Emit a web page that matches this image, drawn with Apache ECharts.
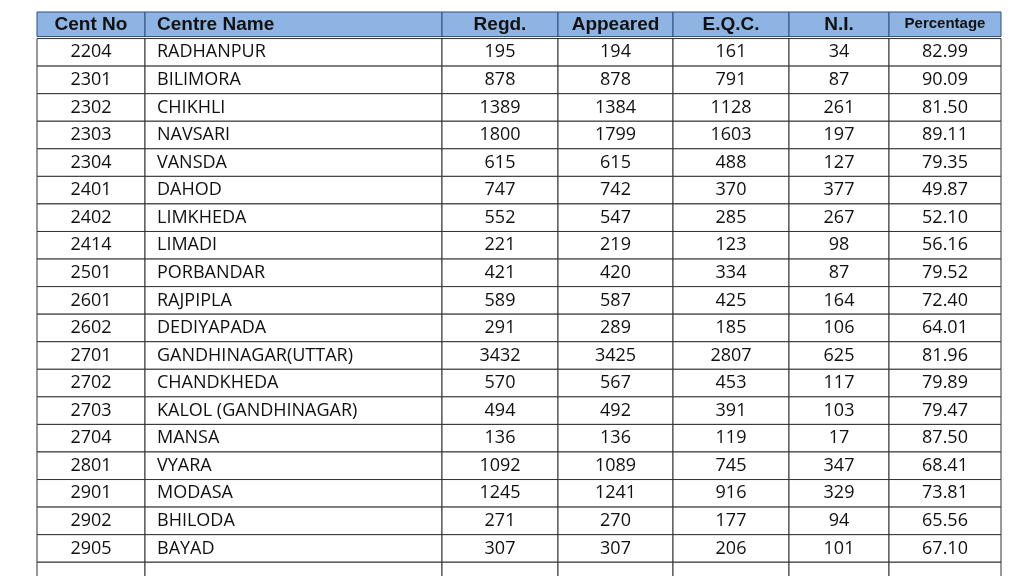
<!DOCTYPE html>
<html><head><meta charset="utf-8">
<script src="https://cdn.jsdelivr.net/npm/echarts@6/dist/echarts.min.js"></script>
<style>html,body{margin:0;background:#fff}#c{width:1024px;height:576px}</style>
</head><body><div id="c"></div>
<script>
const headers = ["Cent No","Centre Name","Regd.","Appeared","E.Q.C.","N.I.","Percentage"];
const centNo = ["2204","2301","2302","2303","2304","2401","2402","2414","2501","2601","2602","2701","2702","2703","2704","2801","2901","2902","2905",""];
const centreName = ["RADHANPUR","BILIMORA","CHIKHLI","NAVSARI","VANSDA","DAHOD","LIMKHEDA","LIMADI","PORBANDAR","RAJPIPLA","DEDIYAPADA","GANDHINAGAR(UTTAR)","CHANDKHEDA","KALOL (GANDHINAGAR)","MANSA","VYARA","MODASA","BHILODA","BAYAD",""];
const regd = [195,878,1389,1800,615,747,552,221,421,589,291,3432,570,494,136,1092,1245,271,307,""];
const appeared = [194,878,1384,1799,615,742,547,219,420,587,289,3425,567,492,136,1089,1241,270,307,""];
const eqc = [161,791,1128,1603,488,370,285,123,334,425,185,2807,453,391,119,745,916,177,206,""];
const ni = [34,87,261,197,127,377,267,98,87,164,106,625,117,103,17,347,329,94,101,""];
const percentage = ["82.99","90.09","81.50","89.11","79.35","49.87","52.10","56.16","79.52","72.40","64.01","81.96","79.89","79.47","87.50","68.41","73.81","65.56","67.10",""];

const edges = [37,145,442,558,673,789,889,1001];
const cols = [centNo,centreName,regd,appeared,eqc,ni,percentage];
const data = [];
headers.forEach((h,c)=>data.push([c,-1,h]));
for(let r=0;r<centNo.length;r++) for(let c=0;c<7;c++) data.push([c,r,String(cols[c][r])]);

const chart = echarts.init(document.getElementById('c'));
chart.setOption({
  animation:false,
  grid:{left:0,top:11,width:1024,height:28*20.5},
  xAxis:{type:'value',min:0,max:1024,show:false},
  yAxis:{type:'value',min:-1,max:19.5,inverse:true,show:false},
  series:[{
    type:'custom',
    clip:false,
    data:data,
    renderItem:function(params,api){
      const c=api.value(0), r=api.value(1), txt=data[params.dataIndex][2];
      const p0=api.coord([edges[c],r]), p1=api.coord([edges[c+1],r+1]);
      const head=r<0;
      const y0=head?p0[1]+1:p0[1], y1=head?p1[1]-2:p1[1];
      const ch=[{type:'rect',shape:{x:p0[0],y:y0,width:p1[0]-p0[0],height:y1-y0},
        style:{fill:head?'#8DB4E2':'#fff',stroke:head?'#2f4f7f':'#333',lineWidth:1}}];
      const left=(c===1);
      ch.push({type:'text',style:{text:txt,x:left?p0[0]+12:(p0[0]+p1[0])/2,y:(y0+y1)/2,
        align:left?'left':'center',verticalAlign:'middle',
        font:head?('bold '+(c===6?'15px':'19px')+' "Liberation Sans", Arial, sans-serif'):'18px "Open Sans", "Noto Sans", sans-serif',
        fill:'#111'}});
      return {type:'group',children:ch};
    }
  }]
});
</script></body></html>
